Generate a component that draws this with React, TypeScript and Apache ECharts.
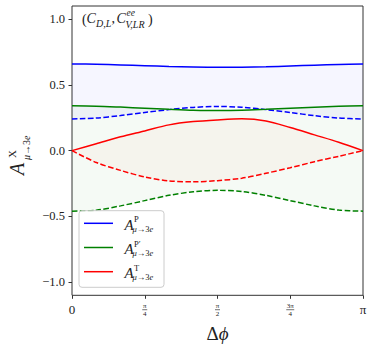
import React, { useEffect, useRef } from "react";
import * as echarts from "echarts";

// Δφ sample positions (multiples of π/12)
const deltaPhi = Array.from({ length: 13 }, (_, k) => (k * Math.PI) / 12);

const blueSolid = [0.659, 0.657, 0.652, 0.646, 0.64, 0.636, 0.634, 0.635, 0.638, 0.644, 0.65, 0.655, 0.659];
const blueDashed = [0.241, 0.248, 0.267, 0.29, 0.312, 0.329, 0.336, 0.33, 0.312, 0.29, 0.266, 0.248, 0.241];
const greenSolid = [0.341, 0.338, 0.331, 0.323, 0.315, 0.308, 0.305, 0.307, 0.314, 0.322, 0.33, 0.337, 0.341];
const greenDashed = [-0.46, -0.453, -0.42, -0.38, -0.34, -0.313, -0.302, -0.31, -0.34, -0.38, -0.42, -0.452, -0.46];
const redSolid = [0, 0.052, 0.105, 0.15, 0.196, 0.221, 0.234, 0.242, 0.226, 0.176, 0.12, 0.064, 0];
const redDashed = [0, -0.09, -0.15, -0.2, -0.23, -0.237, -0.228, -0.21, -0.172, -0.13, -0.084, -0.043, 0];

const yTicks = [-1, -0.5, 0, 0.5, 1];
const xTicks = [0, Math.PI / 4, Math.PI / 2, (3 * Math.PI) / 4, Math.PI];
const xTickNames = ["0", "π/4", "π/2", "3π/4", "π"];

const legendNames = ["P", "P′", "T"];
const COLORS = ["#0000ff", "#008000", "#ff0000"];

const SERIF = "'Liberation Serif', 'DejaVu Serif', serif";
const TXT = "#222";

const pairs = (ys: number[]) => ys.map((y, i) => [deltaPhi[i], y]);

function band(lower: number[], upper: number[], fill: string) {
  return {
    type: "custom",
    coordinateSystem: "cartesian2d",
    data: deltaPhi.map((x, i) => [x, lower[i], upper[i]]),
    encode: { x: 0, y: [1, 2] },
    silent: true,
    z: 1,
    renderItem: (params: any, api: any) => {
      if (params.dataIndex !== 0) return null;
      const pts: number[][] = [];
      for (let i = 0; i < deltaPhi.length; i++) pts.push(api.coord([deltaPhi[i], upper[i]]));
      for (let i = deltaPhi.length - 1; i >= 0; i--) pts.push(api.coord([deltaPhi[i], lower[i]]));
      return { type: "polygon", shape: { points: pts, smooth: 0 }, style: { fill } };
    },
  };
}

function curve(ys: number[], color: string, dashed: boolean) {
  return {
    type: "line",
    data: pairs(ys),
    symbol: "none",
    smooth: 0.3,
    lineStyle: { color, width: 1.5, type: dashed ? [5.5, 2.4] : "solid" },
    z: 3,
  };
}

function txt(text: string, x: number, y: number, size: number, italic: boolean, extra: any = {}) {
  return {
    type: "text",
    x,
    y,
    z: 100,
    style: {
      text,
      fontSize: size,
      fontFamily: SERIF,
      fontStyle: italic ? "italic" : "normal",
      fill: TXT,
      align: "left",
      verticalAlign: "middle",
      ...extra,
    },
  };
}

function subMu3e(x: number, y: number, size: number) {
  return {
    type: "text",
    x,
    y,
    z: 100,
    style: {
      text: "{i|μ}{r|→3}{i|e}",
      fill: TXT,
      align: "left",
      verticalAlign: "middle",
      rich: {
        i: { fontSize: size, fontFamily: SERIF, fontStyle: "italic", fill: TXT },
        r: { fontSize: size, fontFamily: SERIF, fill: TXT },
      },
    },
  };
}

export default function App() {
  const ref = useRef<HTMLDivElement>(null);
  useEffect(() => {
    if (!ref.current) return;
    const chart = echarts.init(ref.current, undefined, { renderer: "svg" });

    const legendRows = [223.3, 247.5, 271.7];
    const legendGraphics: any[] = [
      {
        type: "rect",
        z: 99,
        shape: { x: 79, y: 210.7, width: 85, height: 76.6, r: 3 },
        style: { fill: "rgba(255,255,255,0.8)", stroke: "#cccccc", lineWidth: 1 },
      },
    ];
    legendRows.forEach((ry, i) => {
      legendGraphics.push({
        type: "line",
        z: 100,
        shape: { x1: 84, y1: ry, x2: 113, y2: ry },
        style: { stroke: COLORS[i], lineWidth: 1.5 },
      });
      legendGraphics.push(txt("A", 124.5, ry + 1.5, 15, true));
      legendGraphics.push(txt(legendNames[i], 134, ry - 4, 8.5, false));
      legendGraphics.push(subMu3e(132.5, ry + 5.5, 8.5));
    });

    const titleGraphics = [
      txt("(", 82, 19.5, 14, false),
      txt("C", 86.5, 18, 14, true),
      txt("D,L", 96, 23.5, 10, true),
      txt(",", 111.5, 18, 14, false),
      txt("C", 116.5, 18, 14, true),
      txt("ee", 126.5, 13.4, 9.5, true),
      txt("V,LR", 125.5, 24.2, 10, true),
      txt(")", 148, 19.5, 14, false),
    ];

    const yLabel = {
      type: "group",
      x: 24,
      y: 175,
      rotation: Math.PI / 2,
      z: 100,
      children: [
        txt("A", 0, -6.8, 20, true),
        txt("X", 17, -12.2, 11, false),
        subMu3e(15, 2, 10),
      ],
    };

    const option: any = {
      animation: false,
      backgroundColor: "#ffffff",
      grid: {
        left: 72,
        right: 11,
        top: 6,
        bottom: 56.7,
        show: true,
        borderColor: "#333",
        borderWidth: 1,
        backgroundColor: "transparent",
        containLabel: false,
        outerBoundsMode: "none",
      },
      xAxis: {
        type: "value",
        min: 0,
        max: Math.PI,
        splitLine: { show: false },
        axisLine: { show: false, onZero: false },
        axisTick: { show: true, length: 3.5, customValues: xTicks, lineStyle: { color: "#333", width: 1 } },
        axisLabel: {
          customValues: xTicks,
          margin: 8,
          color: TXT,
          formatter: (v: number) => {
            const idx = Math.round(v / (Math.PI / 4));
            const name = xTickNames[idx];
            if (name === "0" || name === "π") return `{z|${name}}`;
            const [num, den] = name.split("/");
            const w = num.length > 1 ? "barw" : "bar";
            return `{n|${num}}\n{${w}| }\n{d|${den}}`;
          },
          rich: {
            z: { fontSize: 13, lineHeight: 13, fontFamily: SERIF, color: TXT },
            n: { fontSize: 7, lineHeight: 5.5, fontFamily: SERIF, color: TXT },
            bar: { width: 5, height: 0.7, lineHeight: 2, backgroundColor: "#333", fontSize: 7 },
            barw: { width: 8, height: 0.7, lineHeight: 2, backgroundColor: "#333", fontSize: 7 },
            d: { fontSize: 7, lineHeight: 6, fontFamily: SERIF, color: TXT },
          },
        },
        name: "{r|Δ}{i|ϕ}",
        nameLocation: "middle",
        nameGap: 29,
        nameTextStyle: {
          rich: {
            r: { fontSize: 19, fontFamily: SERIF, color: TXT },
            i: { fontSize: 19, fontFamily: SERIF, fontStyle: "italic", color: TXT },
          },
        },
      },
      yAxis: {
        type: "value",
        min: -1.1,
        max: 1.1,
        splitLine: { show: false },
        axisLine: { show: false, onZero: false },
        axisTick: { show: true, length: 3.5, customValues: yTicks, lineStyle: { color: "#333", width: 1 } },
        axisLabel: {
          customValues: yTicks,
          margin: 7,
          color: TXT,
          fontSize: 12.5,
          fontFamily: SERIF,
          formatter: (v: number) => (v < 0 ? "−" : "") + Math.abs(v).toFixed(1),
        },
      },
      series: [
        band(blueDashed, blueSolid, "rgba(0,0,255,0.035)"),
        band(greenDashed, greenSolid, "rgba(0,128,0,0.04)"),
        band(redDashed, redSolid, "rgba(255,60,0,0.03)"),
        curve(blueSolid, COLORS[0], false),
        curve(blueDashed, COLORS[0], true),
        curve(greenSolid, COLORS[1], false),
        curve(greenDashed, COLORS[1], true),
        curve(redSolid, COLORS[2], false),
        curve(redDashed, COLORS[2], true),
      ],
      graphic: [...titleGraphics, yLabel, ...legendGraphics],
    };

    chart.setOption(option);
    return () => chart.dispose();
  }, []);

  return (
    <div
      ref={ref}
      style={{ position: "fixed", left: 0, top: 0, width: 374, height: 352 }}
    />
  );
}
